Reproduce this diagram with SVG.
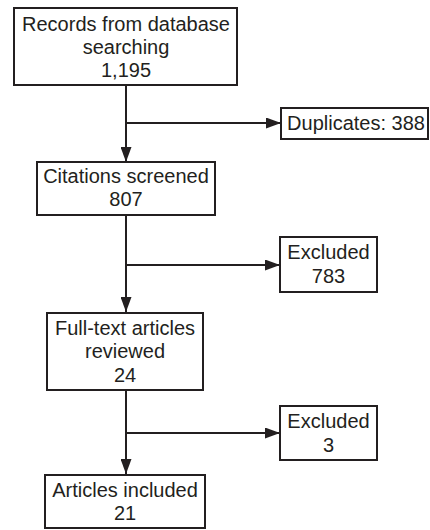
<svg xmlns="http://www.w3.org/2000/svg" width="430" height="530" viewBox="0 0 430 530">
<style>
.box{fill:#fff;stroke:#231f20;stroke-width:2}
.t{font-family:"Liberation Sans",Arial,sans-serif;font-size:20px;fill:#231f20;text-anchor:middle}
.c{fill:none;stroke:#231f20;stroke-width:2}
</style>
<defs>
<marker id="ah" markerWidth="15" markerHeight="11" refX="15" refY="5.5" orient="auto" markerUnits="userSpaceOnUse">
<path d="M0,0 L15,5.5 L0,11 Z" fill="#231f20"/>
</marker>
</defs>
<rect width="430" height="530" fill="#fff"/>
<g id="connectors">
<path class="c" d="M126,85 V162" marker-end="url(#ah)"/>
<path class="c" d="M126,123 H281" marker-end="url(#ah)"/>
<path class="c" d="M126,215 V312" marker-end="url(#ah)"/>
<path class="c" d="M126,265 H280" marker-end="url(#ah)"/>
<path class="c" d="M126,390 V474" marker-end="url(#ah)"/>
<path class="c" d="M126,433 H280" marker-end="url(#ah)"/>
</g>
<g id="n1"><rect class="box" x="14" y="8" width="223" height="77"/>
<text class="t" x="126" y="31">Records from database</text>
<text class="t" x="126" y="54">searching</text>
<text class="t" x="126" y="77">1,195</text></g>
<g id="n2"><rect class="box" x="281" y="108" width="147" height="31"/>
<text class="t" x="356" y="130">Duplicates: 388</text></g>
<g id="n3"><rect class="box" x="37" y="162" width="178" height="53"/>
<text class="t" x="126" y="183">Citations screened</text>
<text class="t" x="126" y="206">807</text></g>
<g id="n4"><rect class="box" x="280" y="237" width="97" height="55"/>
<text class="t" x="328.5" y="259">Excluded</text>
<text class="t" x="328.5" y="283">783</text></g>
<g id="n5"><rect class="box" x="47" y="313" width="156" height="77"/>
<text class="t" x="125" y="335">Full-text articles</text>
<text class="t" x="125" y="358">reviewed</text>
<text class="t" x="125" y="382">24</text></g>
<g id="n6"><rect class="box" x="280" y="406" width="97" height="54"/>
<text class="t" x="328.5" y="428">Excluded</text>
<text class="t" x="328.5" y="452">3</text></g>
<g id="n7"><rect class="box" x="45" y="475" width="160" height="53"/>
<text class="t" x="125" y="497">Articles included</text>
<text class="t" x="125" y="520">21</text></g>
</svg>
